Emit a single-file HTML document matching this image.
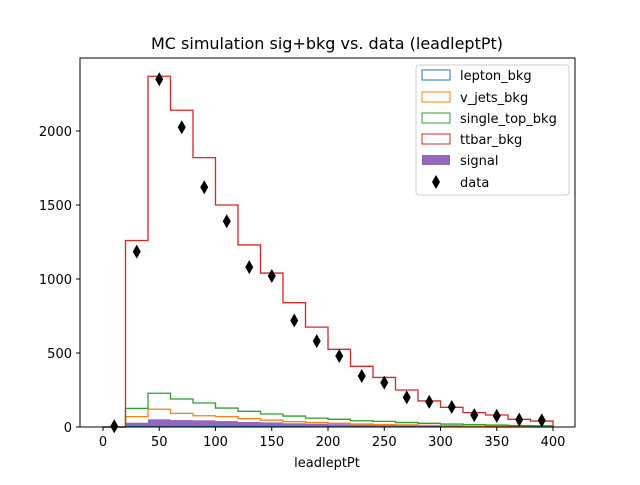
<!DOCTYPE html>
<html><head><meta charset="utf-8"><style>
body{margin:0;background:#fff;width:640px;height:480px;overflow:hidden}
svg text{font-family:"DejaVu Sans","Liberation Sans",sans-serif;fill:#000}
</style></head><body>
<svg id="chart" width="640" height="480" viewBox="0 0 640 480" xmlns="http://www.w3.org/2000/svg">
<rect x="0" y="0" width="640" height="480" fill="#fff"/>
<text x="327" y="49" font-size="16" text-anchor="middle">MC simulation sig+bkg vs. data (leadleptPt)</text>
<g id="plot"></g>
<rect x="80" y="58" width="495" height="369" fill="none" stroke="#000" stroke-width="1"/>
<text x="327" y="467" font-size="13" text-anchor="middle">leadleptPt</text>
<g>
<rect x="416" y="65" width="153" height="130" rx="3" fill="#fff" fill-opacity="0.8" stroke="#ccc"/>
<rect x="422" y="70" width="28" height="10" fill="none" stroke="#1f77b4"/>
<text x="460" y="80" font-size="13">lepton_bkg</text>
<rect x="422" y="92" width="28" height="10" fill="none" stroke="#ff7f0e"/>
<text x="460" y="102" font-size="13">v_jets_bkg</text>
<rect x="422" y="113" width="28" height="10" fill="none" stroke="#2ca02c"/>
<text x="460" y="123" font-size="13">single_top_bkg</text>
<rect x="422" y="134" width="28" height="10" fill="none" stroke="#d62728"/>
<text x="460" y="144" font-size="13">ttbar_bkg</text>
<rect x="422" y="155" width="28" height="10" fill="#9467bd"/>
<text x="460" y="165" font-size="13">signal</text>
<path d="M436,175 L440,182 L436,189 L432,182 Z" fill="#000"/>
<text x="460" y="187" font-size="13">data</text>
</g>
</svg>
<script>
const binEdgesStart = [0,20,40,60,80,100,120,140,160,180,200,220,240,260,280,300,320,340,360,380];
const leptonCum = [0,2,3,3,3,2,2,2,2,1,1,1,1,1,1,1,1,0,0,0];
const vjetsCum = [0,70,120,92,76,70,56,47,36,30,25,20,17,14,11,9,7,6,5,4];
const singleTopCum = [0,126,228,189,162,128,106,88,74,60,52,42,38,30,25,20,17,13,10,8];
const ttbarCum = [0,1260,2370,2140,1820,1500,1230,1040,840,675,525,410,335,250,176,133,97,81,52,40];
const signalVals = [0,29,52,47,45,40,34,31,25,22,19,16,13,11,9,7,6,5,4,3];
const dataVals = [5,1185,2350,2025,1620,1390,1080,1020,720,580,480,345,300,200,170,135,80,75,50,45];
const xTicks = [0,50,100,150,200,250,300,350,400];
const yTicks = [0,500,1000,1500,2000];
const binW = 20;
const X = v => 103 + v*1.125;
const Y = v => 427 - v*0.148;
const NS = 'http://www.w3.org/2000/svg';
const g = document.getElementById('plot');
const svg = document.getElementById('chart');
function mk(tag, attrs, parent){const e=document.createElementNS(NS,tag);for(const k in attrs)e.setAttribute(k,attrs[k]);(parent||g).appendChild(e);return e;}
// signal filled
signalVals.forEach((v,i)=>{
  const r=mk('rect',{x:X(binEdgesStart[i]),y:Y(v),width:X(binW)-X(0),height:Y(0)-Y(v),fill:'#9467bd'});
  
  
});
function stepPath(vals){
  let d='M'+X(binEdgesStart[0])+','+Y(0);
  vals.forEach((v,i)=>{d+=' L'+X(binEdgesStart[i])+','+Y(v)+' L'+X(binEdgesStart[i]+binW)+','+Y(v);});
  d+=' L'+X(binEdgesStart[vals.length-1]+binW)+','+Y(0);
  return d;
}
[[leptonCum,'#1f77b4','lepton-bkg-step'],[vjetsCum,'#ff7f0e','v-jets-bkg-step'],[singleTopCum,'#2ca02c','single-top-bkg-step'],[ttbarCum,'#d62728','ttbar-bkg-step']].forEach(s=>{
  const p=mk('path',{d:stepPath(s[0]),fill:'none',stroke:s[1],'stroke-width':1.3});
  
  
});
dataVals.forEach((v,i)=>{
  const cx=X(binEdgesStart[i]+binW/2), cy=Y(v);
  const p=mk('path',{d:`M${cx},${cy-7} L${cx+4},${cy} L${cx},${cy+7} L${cx-4},${cy} Z`,fill:'#000'});
  
  
});
xTicks.forEach(t=>{
  const l=mk('line',{x1:X(t),x2:X(t),y1:427,y2:431,stroke:'#000'},svg);
  
  
  const tx=mk('text',{x:X(t),y:446,'font-size':13,'text-anchor':'middle'},svg);
  tx.textContent=t;
  
  
});
yTicks.forEach(t=>{
  const l=mk('line',{x1:76,x2:80,y1:Y(t),y2:Y(t),stroke:'#000'},svg);
  
  
  const tx=mk('text',{x:72,y:Y(t)+5,'font-size':13,'text-anchor':'end'},svg);
  tx.textContent=t;
  
  
});
</script>
</body></html>
